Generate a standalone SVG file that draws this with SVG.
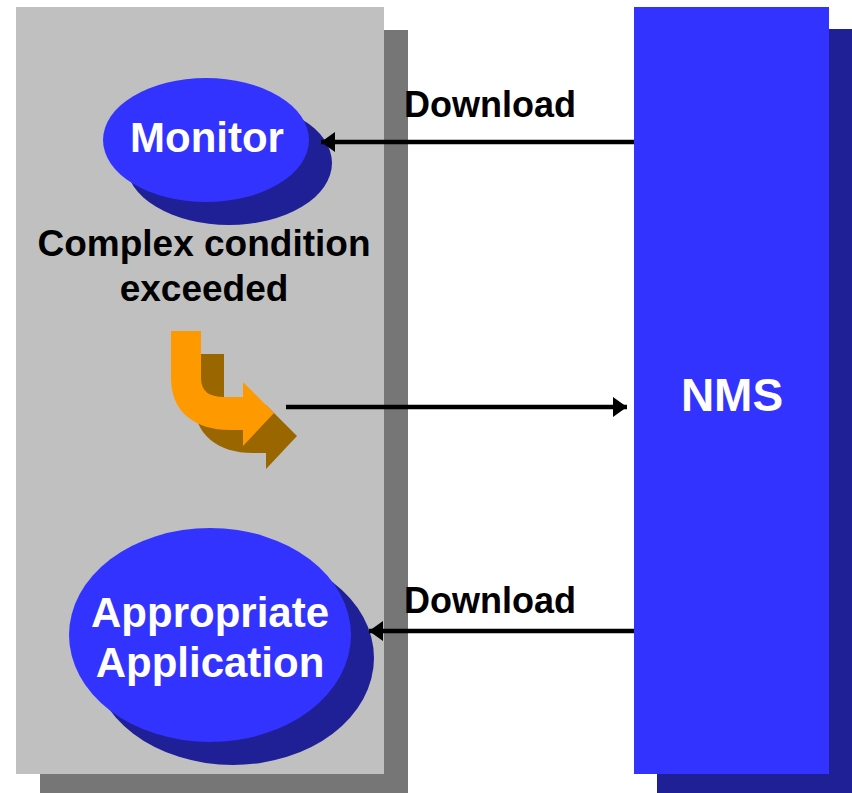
<svg xmlns="http://www.w3.org/2000/svg" width="852" height="793" viewBox="0 0 852 793">
<defs>
<style>
.lbl{font-family:"Liberation Sans",Arial,sans-serif;font-weight:bold;fill:#000}
.wt{font-family:"Liberation Sans",Arial,sans-serif;font-weight:bold;fill:#fff;text-anchor:middle}
.blue{fill:#3333FF}
.bsh{fill:#1F1F96}
.conn{stroke:#000;stroke-width:4.5;fill:none}
</style>
<marker id="ah" markerUnits="userSpaceOnUse" markerWidth="16" markerHeight="20" refX="14" refY="10" orient="auto">
<path d="M0 0 L14 10 L0 20 Z" fill="#000"/>
</marker>
</defs>
<rect width="852" height="793" fill="#fff"/>
<g id="panel">
<rect x="40" y="30" width="368" height="767" fill="#767676"/>
<rect x="16" y="7" width="368" height="767" fill="#C0C0C0"/>
</g>
<g id="nms">
<rect x="657" y="29" width="200" height="768" class="bsh"/>
<rect x="634" y="7" width="195" height="767" class="blue"/>
<text x="732" y="411" class="wt" font-size="46">NMS</text>
</g>
<g id="monitor">
<ellipse cx="229" cy="163" rx="103" ry="62" class="bsh"/>
<ellipse cx="206" cy="140" rx="103" ry="62" class="blue"/>
<text x="207" y="152" class="wt" font-size="42">Monitor</text>
</g>
<g id="condition">
<text x="204" y="256" class="lbl" font-size="37" text-anchor="middle">Complex condition</text>
<text x="204" y="301" class="lbl" font-size="37" text-anchor="middle">exceeded</text>
</g>
<g id="curved-arrow">
<path transform="translate(23,23)" fill="#996600" d="M171 331 H201 V378 C201 391 209 397 224 397 H243 V382 L274 413 L243 446 V430 H230 C195 430 171 412 171 378 Z"/>
<path fill="#FF9900" d="M171 331 H201 V378 C201 391 209 397 224 397 H243 V382 L274 413 L243 446 V430 H230 C195 430 171 412 171 378 Z"/>
</g>
<g id="application">
<ellipse cx="233" cy="658" rx="141" ry="107" class="bsh"/>
<ellipse cx="210" cy="635" rx="141" ry="107" class="blue"/>
<text x="210" y="627" class="wt" font-size="42">Appropriate</text>
<text x="210" y="677" class="wt" font-size="42">Application</text>
</g>
<g id="connectors">
<line x1="634" y1="142" x2="321" y2="142" class="conn" marker-end="url(#ah)"/>
<line x1="286" y1="407" x2="627" y2="407" class="conn" marker-end="url(#ah)"/>
<line x1="634" y1="631" x2="369" y2="631" class="conn" marker-end="url(#ah)"/>
<text x="404" y="117" class="lbl" font-size="36">Download</text>
<text x="404" y="613" class="lbl" font-size="36">Download</text>
</g>
</svg>
